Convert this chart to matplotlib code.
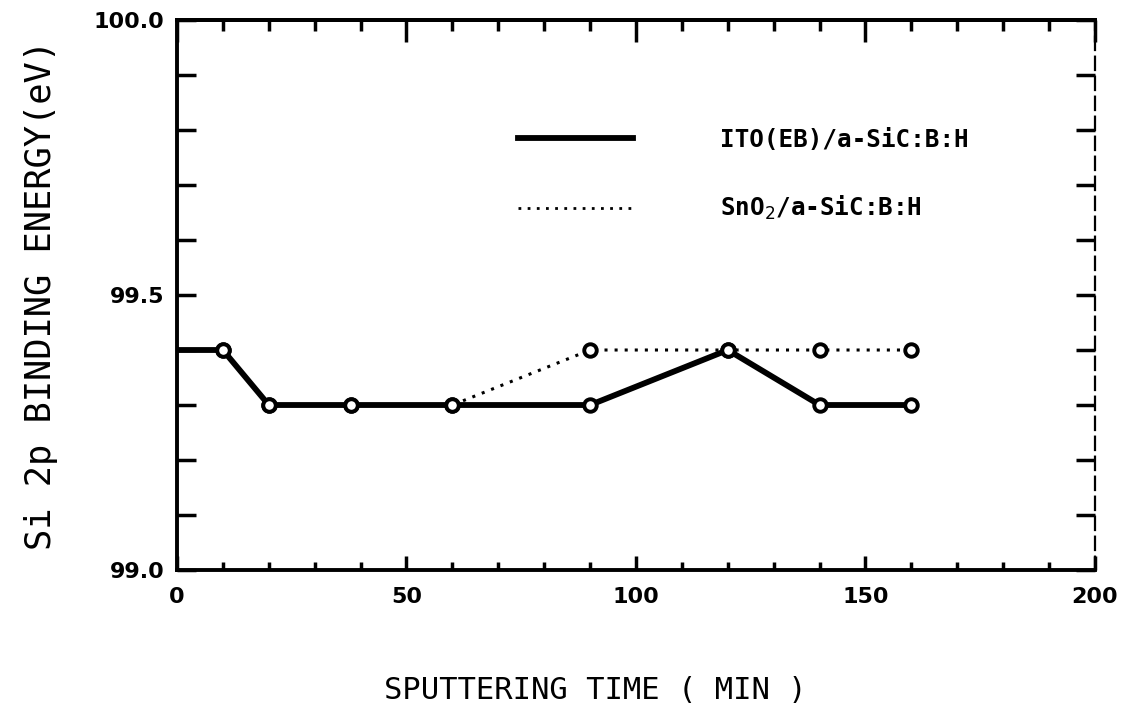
import matplotlib
matplotlib.use("Agg")
import matplotlib.pyplot as plt
from matplotlib.lines import Line2D
from matplotlib.ticker import MultipleLocator

# Data
time_ito = [0, 10, 20, 38, 60, 90, 120, 140, 160]
energy_ito = [99.4, 99.4, 99.3, 99.3, 99.3, 99.3, 99.4, 99.3, 99.3]
time_sno2 = [0, 10, 20, 38, 60, 90, 120, 140, 160]
energy_sno2 = [99.4, 99.4, 99.3, 99.3, 99.3, 99.4, 99.4, 99.4, 99.4]
label_ito = "ITO(EB)/a-SiC:B:H"
label_sno2 = "SnO$_2$/a-SiC:B:H"
xlabel = "SPUTTERING TIME ( MIN )"
ylabel = "Si 2p BINDING ENERGY(eV)"
xticks = [0, 50, 100, 150, 200]
yticks = [99.0, 99.5, 100.0]
yticklabels = ["99.0", "99.5", "100.0"]

fig = plt.figure(figsize=(11.36, 7.06), dpi=100)
ax = fig.add_axes([0.1558, 0.1926, 0.8081, 0.7791])

dotted = (0, (1, 2.3))
ax.plot(time_sno2, energy_sno2, color="black", linestyle=dotted, linewidth=2.2,
        marker="o", markersize=9, markerfacecolor="white", markeredgecolor="black",
        markeredgewidth=2.8, markevery=list(range(1, len(time_sno2))), zorder=2)
ax.plot(time_ito, energy_ito, color="black", linestyle="-", linewidth=4.2,
        marker="o", markersize=9, markerfacecolor="white", markeredgecolor="black",
        markeredgewidth=2.8, markevery=list(range(1, len(time_ito))), zorder=3)

ax.set_xlim(0, 200)
ax.set_ylim(99.0, 100.0)
ax.set_xticks(xticks)
ax.set_yticks(yticks)
ax.set_yticklabels(yticklabels)
ax.xaxis.set_minor_locator(MultipleLocator(10))
ax.yaxis.set_minor_locator(MultipleLocator(0.1))

for lab in ax.get_xticklabels() + ax.get_yticklabels():
    lab.set_fontfamily("DejaVu Sans")
    lab.set_fontweight("bold")
    lab.set_fontsize(16)

ax.tick_params(axis="x", which="major", direction="in", length=10, width=2.5,
               pad=12, top=False)
ax.tick_params(axis="x", which="minor", direction="in", length=6, width=2.5, top=False)
ax.tick_params(axis="y", which="both", direction="in", length=14, width=2.5,
               pad=9, right=True)

top = ax.secondary_xaxis("top")
top.set_xticks(xticks)
top.xaxis.set_minor_locator(MultipleLocator(10))
top.tick_params(axis="x", which="major", direction="in", length=16, width=2.5,
                labeltop=False)
top.tick_params(axis="x", which="minor", direction="in", length=8, width=2.5)
top.spines["top"].set_linewidth(2.8)

for side in ["left", "bottom", "top"]:
    ax.spines[side].set_linewidth(2.8)
ax.spines["right"].set_linewidth(1.6)
ax.spines["right"].set_linestyle((0, (6, 3)))

ax.set_xlabel(xlabel, family="DejaVu Sans Mono", fontsize=22)
ax.xaxis.set_label_coords(0.456, -0.193)
ax.set_ylabel(ylabel, family="DejaVu Sans Mono", fontsize=25.5, labelpad=26)

handles = [
    Line2D([], [], color="black", linestyle="-", linewidth=4.2),
    Line2D([], [], color="black", linestyle=dotted, linewidth=2.0),
]
leg = ax.legend(handles, [label_ito, label_sno2], loc="center left",
                bbox_to_anchor=(0.372, 0.718), frameon=False, borderpad=0,
                borderaxespad=0, handlelength=4.7, handletextpad=3.6,
                labelspacing=1.75,
                prop=dict(family="DejaVu Sans Mono", weight="bold", size=17.5))

fig.savefig("out.png", dpi=100, facecolor="white")
